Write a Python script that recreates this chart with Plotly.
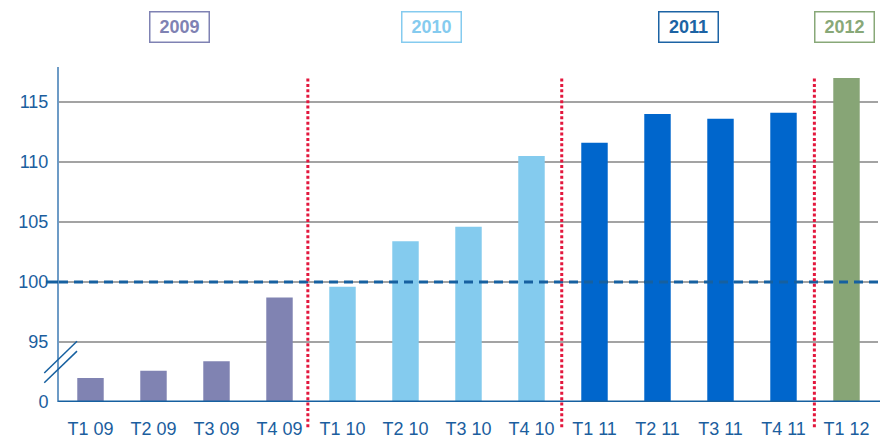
import plotly.graph_objects as go

# ---- data ----
categories = ["T1 09", "T2 09", "T3 09", "T4 09",
              "T1 10", "T2 10", "T3 10", "T4 10",
              "T1 11", "T2 11", "T3 11", "T4 11",
              "T1 12"]
values = [92.0, 92.6, 93.4, 98.7,
          99.6, 103.4, 104.6, 110.5,
          111.6, 114.0, 113.6, 114.1,
          117.0]
years = ["2009"] * 4 + ["2010"] * 4 + ["2011"] * 4 + ["2012"]
year_labels = ["2009", "2010", "2011", "2012"]
year_label_pos = [1.41, 5.42, 9.49, 11.97]      # category coordinate of year boxes
separators = [3.45, 7.48, 11.49]                # category coordinate of dotted lines
tick_vals = [90, 95, 100, 105, 110, 115]
tick_text = ["0", "95", "100", "105", "110", "115"]
reference_level = 100

year_colors = {"2009": "#8083b2", "2010": "#84cbee", "2011": "#0066cc", "2012": "#87a576"}
year_text_colors = {"2009": "#7f82b3", "2010": "#85cbef", "2011": "#1c63a4", "2012": "#88a878"}

FONT = "Arial, 'Liberation Sans', sans-serif"
TICK_COLOR = "#1b5e9e"
AXIS_DARK = "#1660a0"

fig = go.Figure()
fig.add_trace(go.Bar(
    x=list(range(len(categories))),
    y=values,
    marker=dict(color=[year_colors[y] for y in years], line=dict(width=0)),
    width=0.42,
    hoverinfo="skip",
))

shapes = []
# reference dashed line at 100
shapes.append(dict(type="line", xref="paper", yref="y", x0=0, x1=1.003,
                   y0=reference_level, y1=reference_level,
                   line=dict(color=AXIS_DARK, width=3, dash="9px,6px"), layer="above"))
# small tick at 100
shapes.append(dict(type="line", xref="paper", yref="y", x0=-0.016, x1=-0.001,
                   y0=reference_level, y1=reference_level,
                   line=dict(color=AXIS_DARK, width=3)))
# dotted red separators
for s in separators:
    shapes.append(dict(type="line", xref="x", yref="paper", x0=s, x1=s, y0=-0.075, y1=0.97,
                       line=dict(color="#e3173d", width=3, dash="3px,2.4px"), layer="above"))
# axis break marks
for dy in (0, -0.82):
    shapes.append(dict(type="line", xref="paper", yref="y", x0=-0.018, x1=0.022,
                       y0=92.42 + dy, y1=95.06 + dy,
                       line=dict(color=AXIS_DARK, width=1.5)))
# bottom axis line
shapes.append(dict(type="line", xref="paper", yref="y", x0=-0.001, x1=1.003,
                   y0=90, y1=90, line=dict(color=AXIS_DARK, width=3), layer="above"))

annotations = []
for lab, pos in zip(year_labels, year_label_pos):
    annotations.append(dict(
        x=pos, y=1.119, xref="x", yref="paper", text="<b>%s</b>" % lab, showarrow=False,
        xanchor="center", yanchor="middle",
        font=dict(family=FONT, size=18, color=year_text_colors[lab]),
        bordercolor=year_text_colors[lab], borderwidth=1.5, borderpad=0,
        width=58, height=29, bgcolor="white",
    ))

fig.update_layout(
    width=880, height=438,
    margin=dict(l=59, r=2, t=67, b=36, autoexpand=False),
    paper_bgcolor="white", plot_bgcolor="white",
    showlegend=False,
    bargap=0.58,
    font=dict(family=FONT, size=18, color=TICK_COLOR),
    shapes=shapes,
    annotations=annotations,
    xaxis=dict(
        range=[-0.5, len(categories) - 0.5], automargin=False,
        tickmode="array", tickvals=list(range(len(categories))), ticktext=categories,
        showgrid=False, zeroline=False, showline=False, ticks="",
        tickfont=dict(family=FONT, size=18, color=TICK_COLOR),
        ticklabelstandoff=14,
    ),
    yaxis=dict(
        range=[90, 90 + 335 / 12], automargin=False,
        tickmode="array", tickvals=tick_vals, ticktext=tick_text,
        showgrid=True, gridcolor="#a3a3a3", gridwidth=1.5,
        zeroline=False, showline=True, linecolor="#6d9bc6", linewidth=2,
        ticks="", tickfont=dict(family=FONT, size=18, color=TICK_COLOR),
        ticklabelstandoff=5,
    ),
)

fig.write_html("out.html", config={"displayModeBar": False},
               post_script="document.body.style.margin='0';document.body.style.overflow='hidden';")
